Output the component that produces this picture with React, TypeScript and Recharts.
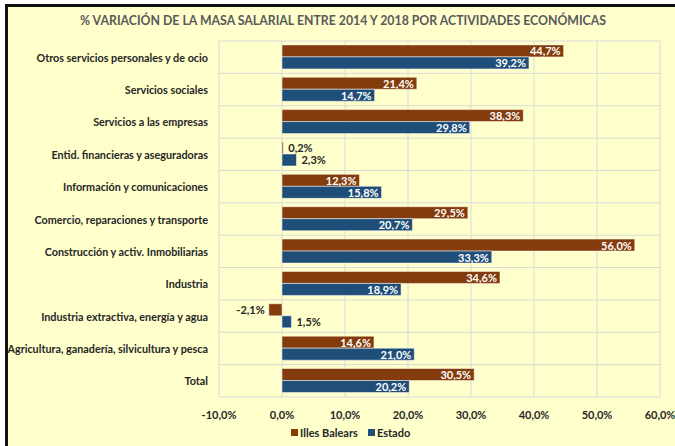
import React from 'react'
import { BarChart, Bar, XAxis, YAxis, CartesianGrid, LabelList, Legend } from 'recharts'

const categories = [
  'Otros servicios personales y de ocio',
  'Servicios sociales',
  'Servicios a las empresas',
  'Entid. financieras y aseguradoras',
  'Información y comunicaciones',
  'Comercio, reparaciones y transporte',
  'Construcción y activ. Inmobiliarias',
  'Industria',
  'Industria extractiva, energía y agua',
  'Agricultura, ganadería, silvicultura y pesca',
  'Total',
]
const illesBalears = [44.7, 21.4, 38.3, 0.2, 12.3, 29.5, 56.0, 34.6, -2.1, 14.6, 30.5]
const estado = [39.2, 14.7, 29.8, 2.3, 15.8, 20.7, 33.3, 18.9, 1.5, 21.0, 20.2]
const xTicks = [-10, 0, 10, 20, 30, 40, 50, 60]

const data = categories.map((name, i) => ({ name, ib: illesBalears[i], es: estado[i] }))

const FONT = 'Lato, "Open Sans", sans-serif'
const BROWN = '#843C0C'
const BLUE = '#1F4E79'
const TEXT = '#262626'

const fmt = (v: number) => v.toFixed(1).replace('.', ',') + '%'

function BarLabel(props: any) {
  const { x, y, width, height, value } = props
  const left = Math.min(x, x + width)
  const right = Math.max(x, x + width)
  const cy = y + height / 2
  const common = { fontFamily: FONT, fontSize: 11, fontWeight: 700, dominantBaseline: 'central' as const }
  if (value < 0) {
    return <text x={left - 4} y={cy} textAnchor="end" fill={TEXT} {...common}>{fmt(value)}</text>
  }
  if (Math.abs(value) < 5) {
    return <text x={right + 5} y={cy} textAnchor="start" fill={TEXT} {...common}>{fmt(value)}</text>
  }
  return <text x={right - 3} y={cy} textAnchor="end" fill="#ffffff" {...common}>{fmt(value)}</text>
}

function CategoryTick(props: any) {
  const { x, y, payload } = props
  return (
    <text x={x} y={y} textAnchor="end" dominantBaseline="central" fill={TEXT} fontFamily={FONT} fontSize={10.8} fontWeight={700}>
      {payload.value}
    </text>
  )
}

function LegendContent() {
  const item = (color: string, label: string) => (
    <span style={{ display: 'inline-flex', alignItems: 'center', marginRight: 10 }}>
      <span style={{ width: 7, height: 7, background: color, display: 'inline-block', marginRight: 2 }} />
      <span>{label}</span>
    </span>
  )
  return (
    <div style={{ fontFamily: FONT, fontSize: 11, fontWeight: 700, color: TEXT, whiteSpace: 'nowrap' }}>
      {item(BROWN, 'Illes Balears')}
      {item(BLUE, 'Estado')}
    </div>
  )
}

export default function App() {
  const n = categories.length
  return (
    <div style={{ position: 'absolute', left: 0, top: 0, width: 675, height: 446, background: '#ffffff', overflow: 'hidden' }}>
      <div
        style={{
          position: 'absolute',
          left: 5,
          top: 4,
          width: 700,
          height: 460,
          background: '#FFFFCC',
          borderTop: '3px solid #111111',
          borderLeft: '3px solid #111111',
        }}
      />
      <div
        style={{
          position: 'absolute',
          left: 80,
          top: 13,
          width: 507,
          textAlign: 'center',
          whiteSpace: 'nowrap',
          fontFamily: FONT,
          fontSize: 12.3,
          fontWeight: 700,
          color: '#595959',
        }}
      >
        % VARIACIÓN DE LA MASA SALARIAL ENTRE 2014 Y 2018 POR ACTIVIDADES ECONÓMICAS
      </div>
      <div style={{ position: 'absolute', left: 0, top: 0 }}>
        <BarChart
          width={675}
          height={446}
          data={data}
          layout="vertical"
          margin={{ top: 41, right: 15, bottom: 29, left: 0 }}
          barCategoryGap="12%"
          barGap={0}
        >
          <CartesianGrid
            stroke="#D9D9D9"
            strokeWidth={1}
            horizontalCoordinatesGenerator={({ offset }: any) =>
              Array.from({ length: n + 1 }, (_, i) => offset.top + (i * offset.height) / n)
            }
          />
          <XAxis
            type="number"
            domain={[-10, 60]}
            ticks={xTicks}
            tickFormatter={fmt}
            axisLine={false}
            tickLine={false}
            height={20}
            tickMargin={8}
            interval={0}
            tick={{ fill: TEXT, fontSize: 11, fontWeight: 700, fontFamily: FONT }}
          />
          <YAxis
            type="category"
            dataKey="name"
            width={219}
            axisLine={false}
            tickLine={false}
            tickSize={0}
            tickMargin={11}
            interval={0}
            tick={<CategoryTick />}
          />
          <Legend
            layout="horizontal"
            verticalAlign="middle"
            align="center"
            content={<LegendContent />}
            wrapperStyle={{ position: 'absolute', left: 291, top: 425, width: 'auto' }}
          />
          <Bar dataKey="ib" name="Illes Balears" fill={BROWN} stroke="#ffffff" strokeWidth={0.5} isAnimationActive={false}>
            <LabelList dataKey="ib" content={<BarLabel />} />
          </Bar>
          <Bar dataKey="es" name="Estado" fill={BLUE} stroke="#ffffff" strokeWidth={0.5} isAnimationActive={false}>
            <LabelList dataKey="es" content={<BarLabel />} />
          </Bar>
        </BarChart>
      </div>
    </div>
  )
}
